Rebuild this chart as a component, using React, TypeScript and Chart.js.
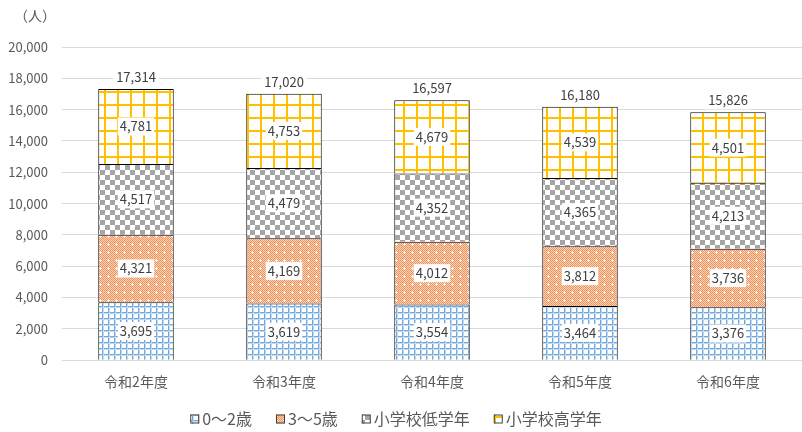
import React, { useEffect, useRef } from "react";
import { Chart, registerables } from "chart.js";

Chart.register(...registerables);

const categories = ["令和2年度", "令和3年度", "令和4年度", "令和5年度", "令和6年度"];
const seriesNames = ["0〜2歳", "3〜5歳", "小学校低学年", "小学校高学年"];
const age0to2 = [3695, 3619, 3554, 3464, 3376];
const age3to5 = [4321, 4169, 4012, 3812, 3736];
const lowerElem = [4517, 4479, 4352, 4365, 4213];
const upperElem = [4781, 4753, 4679, 4539, 4501];
const totals = [17314, 17020, 16597, 16180, 15826];
const yTicks = [0, 2000, 4000, 6000, 8000, 10000, 12000, 14000, 16000, 18000, 20000];
const unitLabel = "（人）";

const FONT = "'Noto Sans CJK JP', 'Noto Sans', sans-serif";

function makeTile(size: number, draw: (c: CanvasRenderingContext2D) => void): CanvasPattern {
  const cv = document.createElement("canvas");
  cv.width = size;
  cv.height = size;
  const c = cv.getContext("2d")!;
  draw(c);
  const tmp = document.createElement("canvas").getContext("2d")!;
  return tmp.createPattern(cv, "repeat")!;
}

function bluePattern() {
  return makeTile(6, (c) => {
    c.fillStyle = "#ffffff";
    c.fillRect(0, 0, 6, 6);
    c.fillStyle = "#6FA6DC";
    c.fillRect(0, 0, 6, 1);
    c.fillRect(0, 0, 1, 6);
    c.fillStyle = "#C3DAF0";
    c.fillRect(0, 1, 6, 1);
    c.fillRect(1, 0, 1, 6);
  });
}

function orangePattern() {
  return makeTile(8, (c) => {
    for (let y = 0; y < 8; y++) {
      for (let x = 0; x < 8; x++) {
        c.fillStyle = (x + y) % 2 === 0 ? "#F0935A" : "#FAD3BA";
        c.fillRect(x, y, 1, 1);
      }
    }
    c.fillStyle = "#ffffff";
    c.fillRect(3, 4, 3, 1);
    c.fillRect(4, 3, 1, 3);
  });
}

function grayPattern() {
  return makeTile(10, (c) => {
    c.fillStyle = "#ffffff";
    c.fillRect(0, 0, 10, 10);
    c.fillStyle = "#A5A5A5";
    c.fillRect(0, 0, 5, 5);
    c.fillRect(5, 5, 5, 5);
  });
}

function yellowPattern() {
  return makeTile(13, (c) => {
    c.fillStyle = "#ffffff";
    c.fillRect(0, 0, 13, 13);
    c.fillStyle = "#FFC000";
    c.fillRect(0, 0, 13, 2);
    c.fillRect(0, 0, 2, 13);
  });
}

const labelPlugin = {
  id: "segLabels",
  afterDatasetsDraw(chart: any) {
    const ctx = chart.ctx as CanvasRenderingContext2D;
    ctx.save();
    ctx.font = `13px ${FONT}`;
    ctx.textAlign = "center";
    ctx.textBaseline = "middle";
    chart.data.datasets.forEach((ds: any, di: number) => {
      const meta = chart.getDatasetMeta(di);
      meta.data.forEach((bar: any, i: number) => {
        const v = ds.data[i] as number;
        const txt = v.toLocaleString("en-US");
        const cy = (bar.y + bar.base) / 2;
        const w = ctx.measureText(txt).width;
        ctx.fillStyle = "#ffffff";
        ctx.fillRect(bar.x - w / 2 - 2, cy - 9, w + 4, 18);
        ctx.fillStyle = "#404040";
        ctx.fillText(txt, bar.x, cy);
      });
    });
    const lastMeta = chart.getDatasetMeta(chart.data.datasets.length - 1);
    lastMeta.data.forEach((bar: any, i: number) => {
      const txt = totals[i].toLocaleString("en-US");
      const cy = bar.y - 12;
      const w = ctx.measureText(txt).width;
      ctx.fillStyle = "#ffffff";
      ctx.fillRect(bar.x - w / 2 - 3, cy - 9, w + 6, 18);
      ctx.fillStyle = "#404040";
      ctx.fillText(txt, bar.x, cy);
    });
    ctx.fillStyle = "#595959";
    ctx.textAlign = "left";
    ctx.font = `14px ${FONT}`;
    ctx.fillText(unitLabel, 14, 16);

    // custom legend
    ctx.font = `16px ${FONT}`;
    const box = 9;
    const boxGap = 3;
    const itemGap = 24;
    const ds = chart.data.datasets;
    const widths = ds.map((d: any) => box + boxGap + ctx.measureText(d.label).width);
    const total = widths.reduce((a: number, b: number) => a + b, 0) + itemGap * (ds.length - 1);
    let x = 396 - total / 2;
    const cy = 419;
    ds.forEach((d: any, i: number) => {
      ctx.fillStyle = d.backgroundColor;
      ctx.fillRect(x, cy - box / 2, box, box);
      ctx.strokeStyle = "#404040";
      ctx.lineWidth = 1;
      ctx.strokeRect(x + 0.5, cy - box / 2 + 0.5, box - 1, box - 1);
      ctx.fillStyle = "#595959";
      ctx.fillText(d.label, x + box + boxGap, cy);
      x += widths[i] + itemGap;
    });
    ctx.restore();
  },
};

export default function App() {
  const ref = useRef<HTMLCanvasElement>(null);
  useEffect(() => {
    document.body.style.margin = "0";
    const patterns = [bluePattern(), orangePattern(), grayPattern(), yellowPattern()];
    const values = [age0to2, age3to5, lowerElem, upperElem];
    const chart = new Chart(ref.current!, {
      type: "bar",
      data: {
        labels: categories,
        datasets: values.map((d, i) => ({
          label: seriesNames[i],
          data: d,
          backgroundColor: patterns[i],
          borderColor: "#000000",
          borderWidth: 1,
          categoryPercentage: 1,
          barPercentage: 0.51,
        })),
      },
      options: {
        animation: false,
        responsive: false,
        maintainAspectRatio: false,
        layout: { padding: { left: 0, right: 0, top: 47, bottom: 37 } },
        scales: {
          x: {
            stacked: true,
            grid: { display: false },
            border: { color: "#D9D9D9" },
            ticks: { color: "#595959", font: { size: 14, family: FONT }, padding: 5 },
          },
          y: {
            stacked: true,
            min: 0,
            max: 20000,
            afterBuildTicks: (axis: any) => {
              axis.ticks = yTicks.map((v) => ({ value: v }));
            },
            afterFit: (axis: any) => {
              axis.width = 62;
            },
            grid: { color: "#D9D9D9", drawTicks: false },
            border: { display: false },
            ticks: {
              color: "#595959",
              font: { size: 13, family: FONT },
              padding: 14,
              callback: (v: any) => Number(v).toLocaleString("en-US"),
            },
          },
        },
        plugins: {
          legend: { display: false },
          tooltip: { enabled: false },
        },
      },
      plugins: [labelPlugin],
    });
    return () => chart.destroy();
  }, []);
  return <canvas ref={ref} width={802} height={432} style={{ display: "block" }} />;
}
